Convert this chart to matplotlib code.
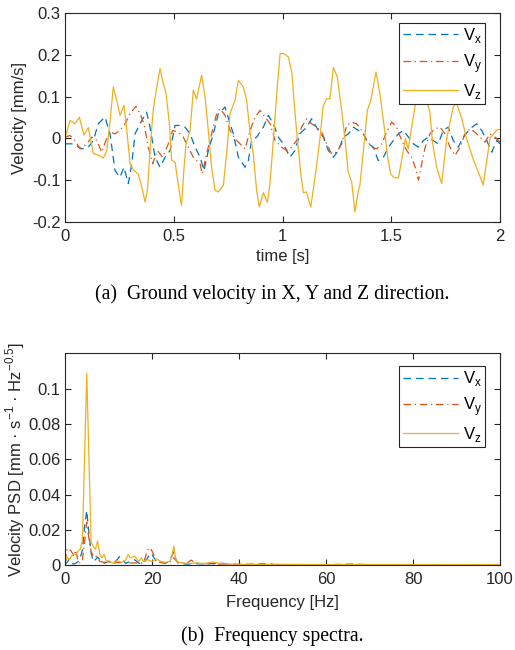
import matplotlib
matplotlib.use("Agg")
import matplotlib.pyplot as plt

plt.rcParams['font.family'] = ['Liberation Sans', 'DejaVu Sans']
plt.rcParams['mathtext.fontset'] = 'custom'
plt.rcParams['mathtext.rm'] = 'Liberation Sans'
plt.rcParams['axes.unicode_minus'] = False

BLUE = '#0072BD'
RED = '#D95319'
YELLOW = '#EDB120'
DARK = '#262626'

# ground velocity [mm/s] over time [s]
t_x = [0, 0.038, 0.077, 0.107, 0.13, 0.153, 0.184, 0.207, 0.23, 0.253, 0.271, 0.291, 0.307, 0.322,
       0.345, 0.375, 0.391, 0.414, 0.437, 0.46, 0.483, 0.506, 0.529, 0.552, 0.575, 0.598, 0.621,
       0.639, 0.659, 0.682, 0.705, 0.736, 0.759, 0.774, 0.797, 0.828, 0.843, 0.858, 0.881, 0.912,
       0.935, 0.958, 0.981, 1.004, 1.034, 1.057, 1.08, 1.111, 1.134, 1.165, 1.188, 1.211, 1.234,
       1.257, 1.28, 1.303, 1.326, 1.349, 1.372, 1.395, 1.418, 1.44, 1.464, 1.487, 1.51, 1.533,
       1.556, 1.579, 1.602, 1.625, 1.648, 1.67, 1.693, 1.716, 1.739, 1.762, 1.785, 1.808, 1.831,
       1.862, 1.893, 1.916, 1.939, 1.962, 1.985, 2.0]
v_x = [-0.013, -0.013, -0.025, -0.021, -0.005, 0.035, 0.051, 0.011, -0.077, -0.093, -0.069, -0.108,
       -0.061, 0.011, 0.035, 0.063, 0.027, -0.045, -0.069, -0.045, -0.029, 0.031, 0.031, 0.027,
       0.011, -0.021, -0.045, -0.077, -0.029, 0.011, 0.059, 0.075, 0.035, 0.011, -0.045, -0.069,
       -0.053, -0.005, 0.003, 0.027, 0.055, 0.035, 0.003, -0.013, -0.045, -0.029, 0.011, 0.027,
       0.047, 0.019, 0.003, -0.029, -0.045, -0.029, 0.003, 0.011, 0.027, 0.019, 0.011, -0.013,
       -0.021, -0.053, -0.045, -0.021, -0.005, 0.011, 0.019, 0.003, -0.013, -0.021, -0.005, 0.003,
       -0.005, -0.013, 0.019, 0.027, -0.005, -0.021, 0.003, 0.023, 0.035, 0.019, -0.005, -0.033,
       -0.005, -0.013]

t_y = [0, 0.023, 0.046, 0.069, 0.1, 0.123, 0.146, 0.169, 0.188, 0.207, 0.23, 0.253, 0.276, 0.299,
       0.326, 0.345, 0.363, 0.383, 0.403, 0.425, 0.449, 0.475, 0.495, 0.521, 0.544, 0.567, 0.59,
       0.621, 0.631, 0.651, 0.674, 0.697, 0.713, 0.736, 0.759, 0.782, 0.805, 0.828, 0.851, 0.874,
       0.897, 0.92, 0.943, 0.966, 0.996, 1.019, 1.042, 1.065, 1.088, 1.111, 1.134, 1.157, 1.18,
       1.203, 1.226, 1.249, 1.272, 1.295, 1.318, 1.341, 1.364, 1.387, 1.41, 1.433, 1.456, 1.479,
       1.502, 1.525, 1.548, 1.571, 1.594, 1.61, 1.625, 1.64, 1.656, 1.678, 1.701, 1.724, 1.747,
       1.77, 1.793, 1.816, 1.839, 1.862, 1.885, 1.908, 1.931, 1.954, 1.977, 2.0]
v_y = [0.003, 0.007, -0.005, -0.025, -0.013, 0.003, -0.005, -0.033, -0.005, 0.015, 0.011, 0.019,
       0.035, 0.059, 0.077, 0.059, 0.035, -0.021, -0.061, -0.029, -0.045, -0.013, 0.019, 0.015,
       0.003, -0.021, -0.045, -0.061, -0.085, -0.037, 0.011, 0.059, 0.071, 0.055, 0.019, -0.001,
       -0.013, -0.025, 0.019, 0.051, 0.067, 0.051, 0.035, -0.005, -0.021, -0.029, -0.021, -0.005,
       0.027, 0.047, 0.035, 0.027, 0.015, -0.013, -0.037, -0.033, -0.013, 0.031, 0.039, 0.035,
       0.019, -0.005, -0.021, -0.025, -0.013, 0.015, 0.039, 0.027, -0.005, -0.029, -0.045, -0.069,
       -0.1, -0.061, -0.021, 0.011, 0.023, 0.027, 0.011, -0.021, -0.041, -0.021, 0.011, 0.023,
       0.015, 0.003, -0.009, 0.011, 0.003, -0.009]

t_z = [0, 0.023, 0.046, 0.066, 0.087, 0.107, 0.13, 0.153, 0.176, 0.192, 0.207, 0.222, 0.238, 0.253,
       0.271, 0.284, 0.299, 0.314, 0.337, 0.352, 0.368, 0.379, 0.391, 0.406, 0.421, 0.437, 0.452,
       0.464, 0.48, 0.49, 0.506, 0.529, 0.536, 0.546, 0.556, 0.575, 0.59, 0.605, 0.628, 0.644,
       0.659, 0.674, 0.69, 0.705, 0.728, 0.743, 0.759, 0.782, 0.797, 0.82, 0.835, 0.85, 0.866,
       0.881, 0.893, 0.912, 0.93, 0.942, 0.958, 0.973, 0.989, 1.005, 1.027, 1.043, 1.055, 1.068,
       1.084, 1.096, 1.11, 1.13, 1.145, 1.158, 1.172, 1.187, 1.203, 1.218, 1.234, 1.252, 1.272,
       1.287, 1.302, 1.318, 1.333, 1.349, 1.356, 1.375, 1.39, 1.406, 1.43, 1.448, 1.467, 1.482,
       1.497, 1.51, 1.533, 1.55, 1.565, 1.578, 1.595, 1.612, 1.63, 1.655, 1.678, 1.69, 1.709,
       1.732, 1.755, 1.785, 1.8, 1.823, 1.846, 1.877, 1.9, 1.923, 1.954, 1.985, 2.0]
v_z = [0.0, 0.043, 0.035, 0.051, 0.008, 0.026, -0.036, -0.04, -0.047, -0.03, 0.04, 0.123, 0.091,
       0.055, 0.079, 0.02, -0.06, -0.075, -0.086, -0.114, -0.152, -0.124, -0.028, 0.07, 0.12,
       0.167, 0.131, 0.11, 0.035, -0.052, -0.057, -0.14, -0.16, -0.08, -0.014, 0.018, 0.115,
       0.094, 0.151, 0.099, 0.018, -0.069, -0.124, -0.128, -0.112, -0.036, 0.06, 0.092, 0.139,
       0.123, 0.092, 0.018, -0.04, -0.124, -0.164, -0.13, -0.153, -0.11, -0.004, 0.104, 0.203,
       0.203, 0.195, 0.157, 0.076, 0.0, -0.084, -0.13, -0.128, -0.164, -0.11, -0.06, 0.0, 0.077,
       0.095, 0.095, 0.17, 0.147, 0.067, 0.0, -0.08, -0.104, -0.176, -0.124, -0.112, -0.013,
       0.067, 0.091, 0.159, 0.106, 0.03, -0.04, -0.084, -0.093, -0.095, -0.045, 0.0, -0.025,
       0.03, 0.085, 0.12, 0.11, 0.06, -0.01, -0.07, -0.108, 0.0, 0.075, 0.085, 0.05, 0.0, -0.05,
       -0.08, -0.112, 0.0, 0.02, 0.022]

# velocity PSD over frequency [Hz]
f_x = [0, 0.5, 1, 1.5, 2, 2.5, 3, 3.5, 4, 4.5, 5, 5.5, 6, 6.5, 7, 7.5, 8, 9, 10, 11, 12, 12.5, 13,
       14, 15, 16, 17, 18, 19, 19.5, 20, 20.5, 21, 22, 23, 24, 25, 25.5, 26, 27, 28, 30, 32, 34,
       36, 38, 40, 44, 47, 48, 50, 55, 60, 66, 70, 80, 90, 100]
p_x = [0.0005, 0.0015, 0.0035, 0.001, 0.0005, 0.001, 0.002, 0.004, 0.0085, 0.022, 0.031, 0.018,
       0.007, 0.002, 0.003, 0.0045, 0.003, 0.001, 0.002, 0.001, 0.003, 0.0047, 0.003, 0.001, 0.002,
       0.003, 0.001, 0.001, 0.004, 0.0066, 0.006, 0.004, 0.002, 0.0015, 0.001, 0.002, 0.0075,
       0.003, 0.001, 0.0008, 0.0005, 0.0008, 0.0006, 0.0008, 0.001, 0.0005, 0.0003, 0.0005,
       0.0008, 0.0003, 0.0002, 0.0002, 0.0002, 0.0005, 0.0002, 0.0002, 0.0002, 0.0002]

f_y = [0, 0.5, 1, 1.5, 2, 2.5, 3, 3.5, 4, 4.5, 5, 5.5, 6, 6.5, 7, 8, 9, 10, 11, 12, 14, 16, 18, 19,
       19.5, 20, 20.5, 21, 22, 23, 24, 25, 26, 28, 29, 30, 32, 34, 36, 40, 50, 60, 70, 80, 90, 100]
p_y = [0.002, 0.0095, 0.009, 0.0076, 0.005, 0.0085, 0.002, 0.001, 0.003, 0.013, 0.0244, 0.015,
       0.0076, 0.005, 0.0055, 0.002, 0.0015, 0.002, 0.001, 0.0015, 0.001, 0.0012, 0.001, 0.0085,
       0.0099, 0.008, 0.005, 0.002, 0.0015, 0.001, 0.0015, 0.004, 0.0015, 0.001, 0.0028, 0.001,
       0.0008, 0.0006, 0.0005, 0.0003, 0.0002, 0.0002, 0.0001, 0.0001, 0.0001, 0.0001]

f_z = [0, 0.5, 1, 1.5, 2, 2.5, 3, 3.5, 4, 5, 6, 6.5, 7, 7.5, 8, 8.5, 9, 9.5, 10, 11, 12, 13, 14,
       14.5, 15, 16, 17, 17.5, 18, 19, 20, 21, 22, 23, 24, 24.5, 25, 25.5, 26, 27, 28, 29, 30, 32,
       34, 36, 38, 40, 45, 50, 60, 70, 80, 90, 100]
p_z = [0.001, 0.0045, 0.003, 0.005, 0.0065, 0.006, 0.008, 0.009, 0.014, 0.109, 0.013, 0.0105,
       0.009, 0.0137, 0.006, 0.004, 0.006, 0.002, 0.0025, 0.001, 0.0025, 0.0015, 0.003, 0.006,
       0.004, 0.005, 0.002, 0.004, 0.002, 0.003, 0.002, 0.0035, 0.002, 0.0015, 0.002, 0.004,
       0.0108, 0.003, 0.0015, 0.0012, 0.001, 0.0008, 0.0012, 0.0008, 0.0017, 0.0008, 0.0005,
       0.0004, 0.0003, 0.0004, 0.0002, 0.0003, 0.0002, 0.0002, 0.0002]

labels = ['V$_\\mathregular{x}$', 'V$_\\mathregular{y}$', 'V$_\\mathregular{z}$']


def style_axes(ax):
    for s in ax.spines.values():
        s.set_color(DARK)
        s.set_linewidth(0.8)
    ax.tick_params(direction='in', length=4, width=0.8, colors=DARK, labelcolor=DARK,
                   labelsize=12, top=True, right=True)
    ax.tick_params(axis='x', pad=5)
    ax.tick_params(axis='y', pad=3)


def draw_lines(ax, xs, ys):
    (x1, x2, x3), (y1, y2, y3) = xs, ys
    ax.plot(x1, y1, color=BLUE, lw=0.9, dashes=(6, 4))
    ax.plot(x2, y2, color=RED, lw=0.9, dashes=(6, 3, 1, 3))
    ax.plot(x3, y3, '-', color=YELLOW, lw=0.9)


def add_legend(ax, anchor):
    leg = ax.legend(labels, loc='upper right', bbox_to_anchor=anchor, borderaxespad=0,
                    fontsize=12, fancybox=False, framealpha=1, edgecolor=DARK,
                    handlelength=3.3, handletextpad=0.3, labelspacing=0.4, borderpad=0.2)
    leg.get_frame().set_linewidth(0.8)


fig = plt.figure(figsize=(5.15, 6.5), dpi=100)

ax1 = fig.add_axes([65 / 515, 1 - 222 / 650, 435 / 515, 209 / 650])
draw_lines(ax1, (t_x, t_y, t_z), (v_x, v_y, v_z))
ax1.set_xlim(0, 2)
ax1.set_ylim(-0.2, 0.3)
ax1.set_xticks([0, 0.5, 1, 1.5, 2])
ax1.set_xticklabels(['0', '0.5', '1', '1.5', '2'])
ax1.set_yticks([-0.2, -0.1, 0, 0.1, 0.2, 0.3])
ax1.set_yticklabels(['-0.2', '-0.1', '0', '0.1', '0.2', '0.3'])
ax1.set_xlabel('time [s]', fontsize=12, color=DARK, labelpad=4)
ax1.set_ylabel('Velocity [mm/s]', fontsize=12, color=DARK)
ax1.yaxis.set_label_coords(-0.087, 0.5)
style_axes(ax1)
add_legend(ax1, ((485 - 65) / 435, (222 - 23) / 209))

ax2 = fig.add_axes([65 / 515, 1 - 565 / 650, 435 / 515, 212 / 650])
draw_lines(ax2, (f_x, f_y, f_z), (p_x, p_y, p_z))
ax2.set_xlim(0, 100)
ax2.set_ylim(0, 0.1205)
ax2.set_xticks([0, 20, 40, 60, 80, 100])
ax2.set_yticks([0, 0.02, 0.04, 0.06, 0.08, 0.1])
ax2.set_yticklabels(['0', '0.02', '0.04', '0.06', '0.08', '0.1'])
ax2.set_xlabel('Frequency [Hz]', fontsize=12, color=DARK, labelpad=6)
ax2.set_ylabel('Velocity PSD [mm · s$^{\\mathregular{-1}}$ · Hz$^{\\mathregular{-0.5}}$]',
               fontsize=12, color=DARK)
ax2.yaxis.set_label_coords(-0.087, 0.5)
style_axes(ax2)
add_legend(ax2, ((485 - 65) / 435, (565 - 366) / 212))

fig.text(272 / 515, 1 - 294 / 650, '(a)  Ground velocity in X, Y and Z direction.',
         family='Liberation Serif', fontsize=14.2, ha='center', va='center', color='black')
fig.text(272 / 515, 1 - 636 / 650, '(b)  Frequency spectra.',
         family='Liberation Serif', fontsize=14.2, ha='center', va='center', color='black')

fig.savefig('out.png', dpi=100, facecolor='white')
